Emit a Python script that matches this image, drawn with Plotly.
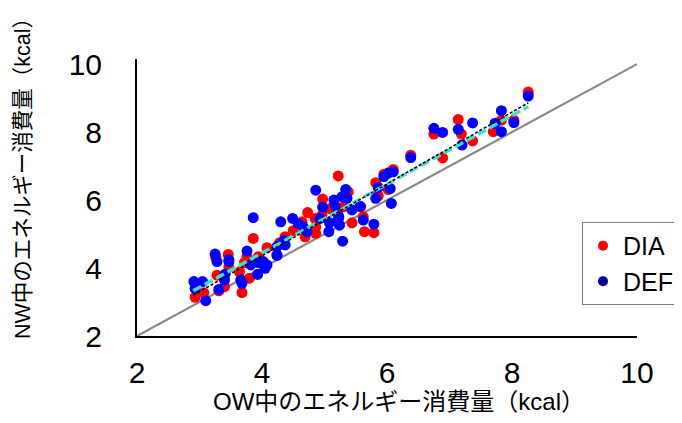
import plotly.graph_objects as go

# ---- data ----
dia_x = [8.26, 7.83, 7.70, 8.03, 7.14, 7.19, 7.37, 6.75, 6.89, 6.38,
         6.10, 6.02, 5.95, 5.82, 6.02, 5.86, 5.22, 5.38, 4.97, 5.09, 5.30, 5.58, 5.21, 4.96, 4.73,
         4.85, 4.64, 4.50, 4.86, 4.86, 5.44, 4.69, 5.62, 5.64, 5.79,
         3.86, 4.37, 4.28, 4.08, 4.24, 3.76, 3.94, 3.72, 3.64, 3.80, 3.68, 3.46, 3.47, 3.26, 3.28,
         3.40, 3.31, 3.07, 2.93]
dia_y = [9.18, 8.35, 8.01, 8.35, 8.37, 7.94, 7.74, 7.94, 7.24, 7.32,
         6.90, 6.80, 6.76, 6.51, 6.31, 6.12, 6.71, 6.24, 6.03, 5.75, 5.80, 5.80, 5.66, 5.56, 5.63,
         5.46, 5.36, 5.10, 5.21, 5.02, 5.33, 4.92, 5.51, 5.07, 5.04,
         4.87, 4.92, 4.74, 4.60, 4.38, 4.33, 4.33, 4.16, 3.89, 3.70, 3.28, 4.40, 4.02, 4.31, 3.79,
         3.45, 3.33, 3.27, 3.14]

def_x = [8.26, 7.83, 7.73, 7.83, 8.03, 7.14, 7.37, 7.20, 6.75, 6.89, 6.38,
         6.10, 6.02, 5.95, 5.86, 6.05, 5.82, 6.07, 4.86, 5.34, 5.28, 5.36, 5.15, 5.17, 4.97, 5.44,
         5.57, 5.23, 4.93, 4.49, 4.30, 3.86, 4.58, 4.66, 4.72, 5.08, 5.22, 5.24, 5.07, 5.29, 5.62, 5.79,
         4.35, 4.37, 4.24, 4.24, 3.76, 3.82, 3.94, 4.02, 4.08, 4.05, 3.93, 3.66, 3.68, 3.47, 3.47,
         3.25, 3.28, 3.41, 3.40, 3.31, 2.91, 3.05, 2.93, 3.10]
def_y = [9.06, 8.63, 8.26, 8.01, 8.28, 8.08, 8.27, 7.62, 8.11, 7.99, 7.25,
         6.83, 6.79, 6.69, 6.37, 6.34, 6.05, 5.90, 6.29, 6.31, 6.10, 6.05, 6.00, 5.82, 5.79, 5.71,
         5.82, 5.51, 5.46, 5.46, 5.36, 5.48, 5.31, 5.21, 5.07, 5.33, 5.43, 5.26, 5.07, 4.79, 5.41, 5.29,
         4.80, 4.68, 4.63, 4.37, 4.50, 4.09, 4.16, 4.19, 4.09, 3.99, 3.81, 3.65, 3.55, 4.24, 4.19,
         4.41, 4.19, 3.82, 3.65, 3.37, 3.60, 3.60, 3.40, 3.04]

# regression lines (slope, intercept) and the x-extent they span
fit_x = [2.90, 8.26]
fit_black = (1.056, 0.138)
fit_cyan = (1.011, 0.398)
identity_x = [2, 10]

x_ticks = [2, 4, 6, 8, 10]
y_ticks = [2, 4, 6, 8, 10]
x_title = "OW中のエネルギー消費量（kcal）"
y_title = "NW中のエネルギー消費量（kcal）"

FONT = "Liberation Sans, Arial, Noto Sans CJK JP, sans-serif"

fig = go.Figure()

fig.add_trace(go.Scatter(x=identity_x, y=identity_x, mode="lines",
                         line=dict(color="#8a8a8a", width=2.2), showlegend=False,
                         hoverinfo="skip"))
fig.add_trace(go.Scatter(x=dia_x, y=dia_y, mode="markers",
                         marker=dict(color="#ff0000", size=11, line=dict(width=0)),
                         showlegend=False))
fig.add_trace(go.Scatter(x=def_x, y=def_y, mode="markers",
                         marker=dict(color="#0000ff", size=11, line=dict(width=0)),
                         showlegend=False))
fig.add_trace(go.Scatter(x=fit_x, y=[fit_cyan[0] * v + fit_cyan[1] for v in fit_x],
                         mode="lines", line=dict(color="#3fe0d0", width=3.4, dash="9px,4px"),
                         showlegend=False))
fig.add_trace(go.Scatter(x=fit_x, y=[fit_black[0] * v + fit_black[1] for v in fit_x],
                         mode="lines", line=dict(color="#000000", width=1.5, dash="3px,2px"),
                         showlegend=False))
# legend-only entries
fig.add_trace(go.Scatter(x=[None], y=[None], mode="markers", name="DIA",
                         marker=dict(color="#ff0000", size=10)))
fig.add_trace(go.Scatter(x=[None], y=[None], mode="markers", name="DEF",
                         marker=dict(color="#000099", size=10)))

# the page body adds an 8px offset, so the figure is drawn 8px smaller
fig.update_layout(
    width=674, height=415,
    margin=dict(l=129, r=45, t=51, b=87, autoexpand=False),
    paper_bgcolor="white", plot_bgcolor="white",
    font=dict(family=FONT, color="black"),
    showlegend=True,
    legend=dict(x=0.89, y=0.412, xanchor="left", yanchor="top",
                bordercolor="#808080", borderwidth=1, bgcolor="white",
                font=dict(size=25, family=FONT), itemwidth=30,
                tracegroupgap=0),
    xaxis=dict(range=[2, 10], tickvals=x_ticks, showgrid=False, zeroline=False,
               showline=True, linecolor="black", linewidth=2, ticks="",
               automargin=False,
               tickfont=dict(size=30, family=FONT), ticklabelstandoff=9),
    yaxis=dict(range=[2, 10.15], tickvals=y_ticks, showgrid=False, zeroline=False,
               showline=True, linecolor="black", linewidth=2, ticks="",
               automargin=False,
               tickfont=dict(size=30, family=FONT), ticklabelstandoff=27),
    annotations=[
        dict(text=x_title, xref="paper", yref="paper", x=0.523, y=-0.237,
             xanchor="center", yanchor="middle", showarrow=False,
             font=dict(size=24, family=FONT)),
        dict(text=y_title, xref="paper", yref="paper", x=-0.228, y=0.588,
             xanchor="center", yanchor="middle", showarrow=False, textangle=-90,
             font=dict(size=21.5, family=FONT)),
    ],
)

fig.write_html("out.html")
